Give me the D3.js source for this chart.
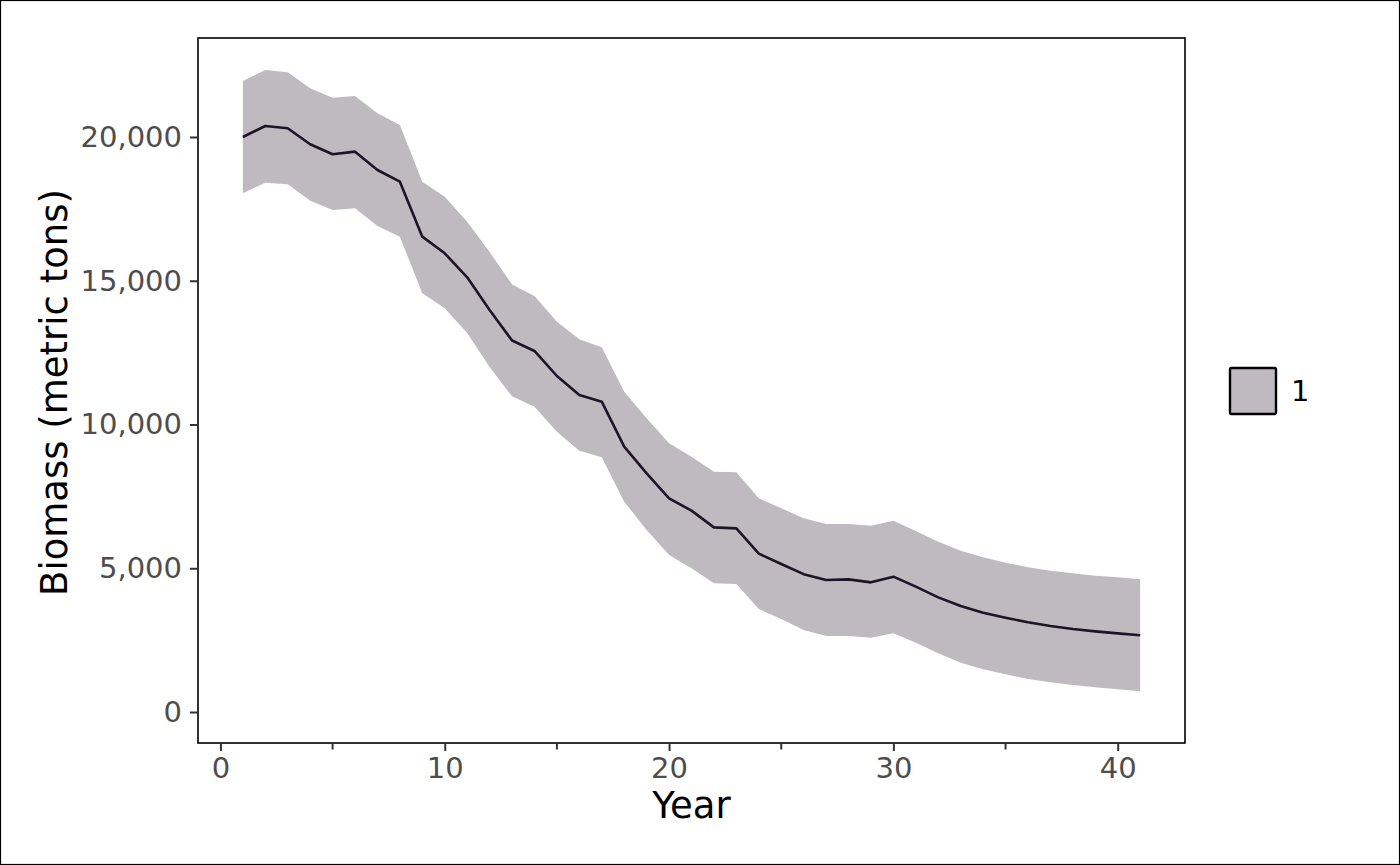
<!DOCTYPE html>
<html><head><meta charset="utf-8">
<script src="https://cdn.jsdelivr.net/npm/d3@7"></script>
<style>html,body{margin:0;padding:0;background:#fff;}svg{display:block;}</style>
</head><body>
<script>
const years = d3.range(1, 42);
const biomass = [20000,20383,20302,19746,19398,19490,18852,18446,16533,15954,15119,13983,12920,12557,11687,11026,10794,9229,8301,7432,7003,6423,6388,5510,5148,4795,4591,4614,4510,4707,4359,3988,3687,3455,3281,3119,2991,2887,2806,2736,2667];
const upper = [21948,22330,22249,21694,21369,21426,20824,20417,18446,17925,17055,16000,14870,14470,13577,12963,12684,11142,10215,9345,8881,8360,8337,7432,7085,6737,6539,6539,6481,6655,6296,5925,5611,5380,5194,5032,4915,4823,4742,4684,4614];
const lower = [18040,18410,18352,17784,17461,17519,16904,16533,14562,14040,13183,12000,10980,10620,9750,9089,8858,7316,6330,5461,4997,4476,4452,3583,3235,2852,2643,2643,2585,2736,2411,2042,1716,1485,1311,1148,1033,939,859,790,720];
const xTicks = [0,10,20,30,40];
const xMinorTicks = [5,15,25,35];
const yTicks = [0,5000,10000,15000,20000];
const legendLabels = ["1"];

const W = 1400, H = 865;
const P = {l:198, r:1185, t:38, b:743};
const svg = d3.select("body").append("svg").attr("width", W).attr("height", H);
svg.append("rect").attr("x",0.5).attr("y",0.5).attr("width",W-1).attr("height",H-1).attr("fill","#fff").attr("stroke","#000").attr("stroke-width",1.2);

const x = d3.scaleLinear().domain([-1, 43]).range([P.l, P.r]);
const y = d3.scaleLinear().domain([-1078, 23443]).range([P.b, P.t]);

const data = years.map((yr,i)=>({yr, m:biomass[i], lo:lower[i], hi:upper[i]}));

svg.append("path").datum(data)
  .attr("d", d3.area().x(d=>x(d.yr)).y0(d=>y(d.lo)).y1(d=>y(d.hi)))
  .attr("fill","#bfbac0");
svg.append("path").datum(data)
  .attr("d", d3.line().x(d=>x(d.yr)).y(d=>y(d.m)))
  .attr("fill","none").attr("stroke","#1e1426").attr("stroke-width",2.6).attr("stroke-linejoin","round");

svg.append("rect").attr("x",P.l).attr("y",P.t).attr("width",P.r-P.l).attr("height",P.b-P.t)
  .attr("fill","none").attr("stroke","#000").attr("stroke-width",1.6);

// x axis
const gx = svg.append("g").attr("transform",`translate(0,${P.b})`);
const xa = d3.axisBottom(x).tickValues(xTicks).tickSize(8).tickPadding(6).tickFormat(d3.format("d"));
gx.call(xa);
gx.select(".domain").remove();
gx.selectAll(".tick line").attr("stroke","#333").attr("stroke-width",2);
gx.selectAll(".tick text").attr("fill","#4d4d4d").attr("font-size",29).attr("font-family","DejaVu Sans");
gx.selectAll(".minor").data(xMinorTicks).enter().append("line")
  .attr("x1",d=>x(d)).attr("x2",d=>x(d)).attr("y1",0).attr("y2",6.5).attr("stroke","#333").attr("stroke-width",2);

// y axis
const gy = svg.append("g").attr("transform",`translate(${P.l},0)`);
gy.call(d3.axisLeft(y).tickValues(yTicks).tickSize(8).tickPadding(8).tickFormat(d3.format(",")));
gy.select(".domain").remove();
gy.selectAll(".tick line").attr("stroke","#333").attr("stroke-width",2);
gy.selectAll(".tick text").attr("fill","#4d4d4d").attr("font-size",29).attr("font-family","DejaVu Sans");

svg.append("text").attr("x",(P.l+P.r)/2).attr("y",818).attr("text-anchor","middle")
  .attr("font-family","DejaVu Sans").attr("font-size",37).attr("fill","#000").text("Year");
svg.append("text").attr("transform",`translate(67,${(P.t+P.b)/2 + 2}) rotate(-90)`).attr("text-anchor","middle")
  .attr("font-family","DejaVu Sans").attr("font-size",37).attr("fill","#000").text("Biomass (metric tons)");

// legend
const lg = svg.append("g").selectAll("g").data(legendLabels).enter().append("g");
lg.append("rect").attr("x",1230).attr("y",368).attr("width",46).attr("height",46).attr("rx",1.5)
  .attr("fill","#bfbac0").attr("stroke","#000").attr("stroke-width",2.4);
lg.append("text").attr("x",1291).attr("y",401).attr("font-family","DejaVu Sans").attr("font-size",29).attr("fill","#000").text(d=>d);
</script>
</body></html>
